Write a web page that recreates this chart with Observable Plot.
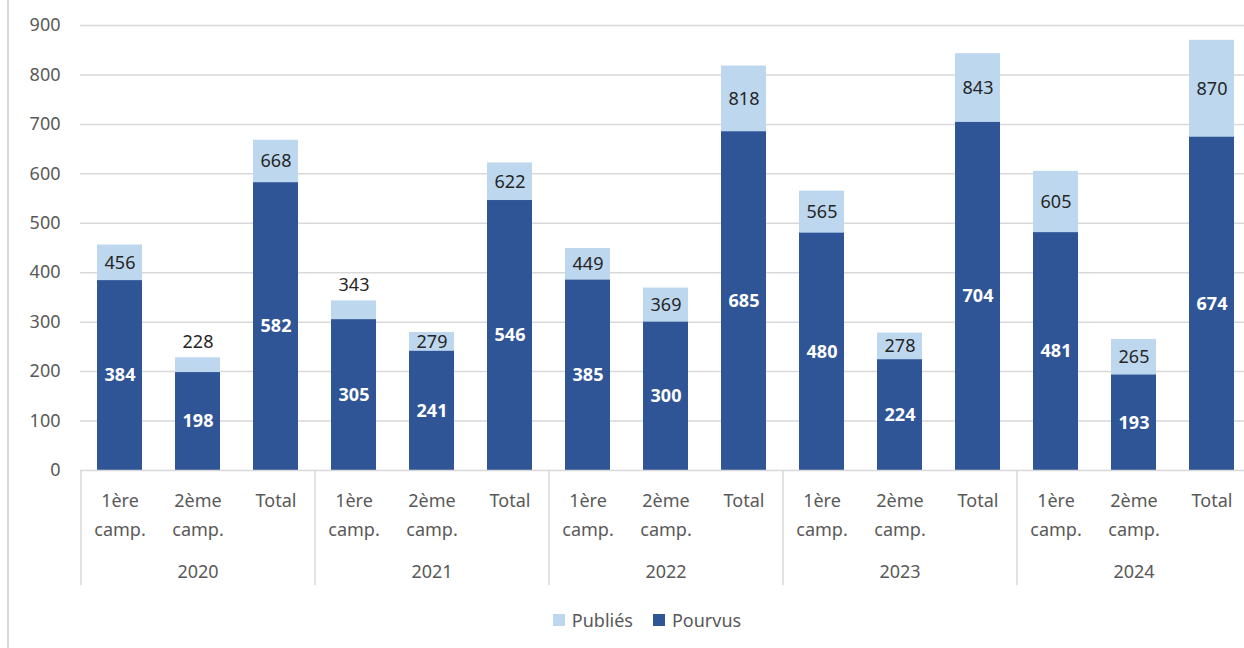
<!DOCTYPE html>
<html>
<head>
<meta charset="utf-8">
<script src="https://cdn.jsdelivr.net/npm/d3@7"></script>
<script src="https://cdn.jsdelivr.net/npm/@observablehq/plot@0.6"></script>
<style>
  html, body { margin: 0; padding: 0; background: #fff; overflow: hidden; }
  body { width: 1244px; height: 648px; position: relative; font-family: "Noto Sans", sans-serif; }
  #frame { position: absolute; left: 7px; top: 0; width: 2px; height: 648px; background: #d9d9d9; }
  #chart { position: absolute; left: 0; top: 0; width: 1256px; }
  #chart svg { max-width: none !important; }
  #legend { position: absolute; left: 0; top: 600px; width: 1244px; height: 40px; display: flex; justify-content: center; align-items: center; gap: 20px; font-size: 18px; color: #595959; padding-left: 50px; box-sizing: border-box; }
  .item { display: flex; align-items: center; gap: 7px; }
  .sw { width: 12px; height: 12px; display: inline-block; }
</style>
</head>
<body>
<div id="frame"></div>
<div id="chart"></div>
<div id="legend">
  <span class="item"><span class="sw" style="background:#BDD7EE"></span>Publiés</span>
  <span class="item"><span class="sw" style="background:#2F5597"></span>Pourvus</span>
</div>
<script>
const years = ["2020", "2021", "2022", "2023", "2024"];
const campaigns = ["1ère camp.", "2ème camp.", "Total"];
const publies = [456, 228, 668, 343, 279, 622, 449, 369, 818, 565, 278, 843, 605, 265, 870];
const pourvus = [384, 198, 582, 305, 241, 546, 385, 300, 685, 480, 224, 704, 481, 193, 674];
const yTicks = [0, 100, 200, 300, 400, 500, 600, 700, 800, 900];
// labels of "Publiés" placed above the bar (too little room inside)
const outsideLabels = ["2020|2ème camp.", "2021|1ère camp."];

const data = [];
years.forEach((yr, gi) => campaigns.forEach((c, ci) => {
  const i = gi * 3 + ci;
  data.push({key: yr + "|" + c, year: yr, camp: c, publies: publies[i], pourvus: pourvus[i]});
}));
const keys = data.map(d => d.key);

const W = 1256, ML = 80, MR = 4, H = 600, MT = 25, MB = 130;
const step = (W - ML - MR) / keys.length;
const gray = "#595959";
const firstOfGroup = data.filter(d => d.camp === campaigns[0]);
const midOfGroup = data.filter(d => d.camp === campaigns[1]);

const chart = Plot.plot({
  width: W, height: H,
  marginLeft: ML, marginRight: MR, marginTop: MT, marginBottom: MB,
  style: {fontFamily: "Noto Sans, sans-serif", fontSize: "18px", color: gray, overflow: "visible", maxWidth: "none"},
  x: {domain: keys, paddingInner: 0.42, paddingOuter: 0.21, axis: null},
  y: {domain: [0, 900], ticks: yTicks, label: null},
  marks: [
    Plot.gridY(yTicks.filter(t => t > 0), {stroke: "#d9d9d9", strokeWidth: 1.5, strokeOpacity: 1}),
    Plot.axisY(yTicks, {tickSize: 0, tickPadding: 20, fontSize: 18, fill: gray, label: null}),
    Plot.barY(data, {x: "key", y: "publies", fill: "#BDD7EE"}),
    Plot.barY(data, {x: "key", y: "pourvus", fill: "#2F5597"}),
    Plot.ruleY([0], {stroke: "#d9d9d9", strokeWidth: 1.5}),
    Plot.ruleX(firstOfGroup, {x: "key", y1: 0, y2: -233, dx: -step / 2, stroke: "#d9d9d9", strokeWidth: 1.5}),
    Plot.text(data, {x: "key", y: d => d.pourvus / 2, text: d => String(d.pourvus), fill: "white", fontWeight: "bold", fontSize: 18}),
    Plot.text(data.filter(d => !outsideLabels.includes(d.key)), {x: "key", y: d => (d.pourvus + d.publies) / 2, text: d => String(d.publies), fill: "#262626", fontSize: 18}),
    Plot.text(data.filter(d => outsideLabels.includes(d.key)), {x: "key", y: "publies", dy: -16, text: d => String(d.publies), fill: "#262626", fontSize: 18}),
    Plot.text(data, {x: "key", y: 0, text: d => d.camp.replace(" ", "\n"), lineAnchor: "top", dy: 16, lineHeight: 1.6, fill: gray, fontSize: 18}),
    Plot.text(midOfGroup, {x: "key", y: 0, text: "year", dy: 102, fill: gray, fontSize: 18})
  ]
});
document.getElementById("chart").appendChild(chart);
</script>
</body>
</html>
